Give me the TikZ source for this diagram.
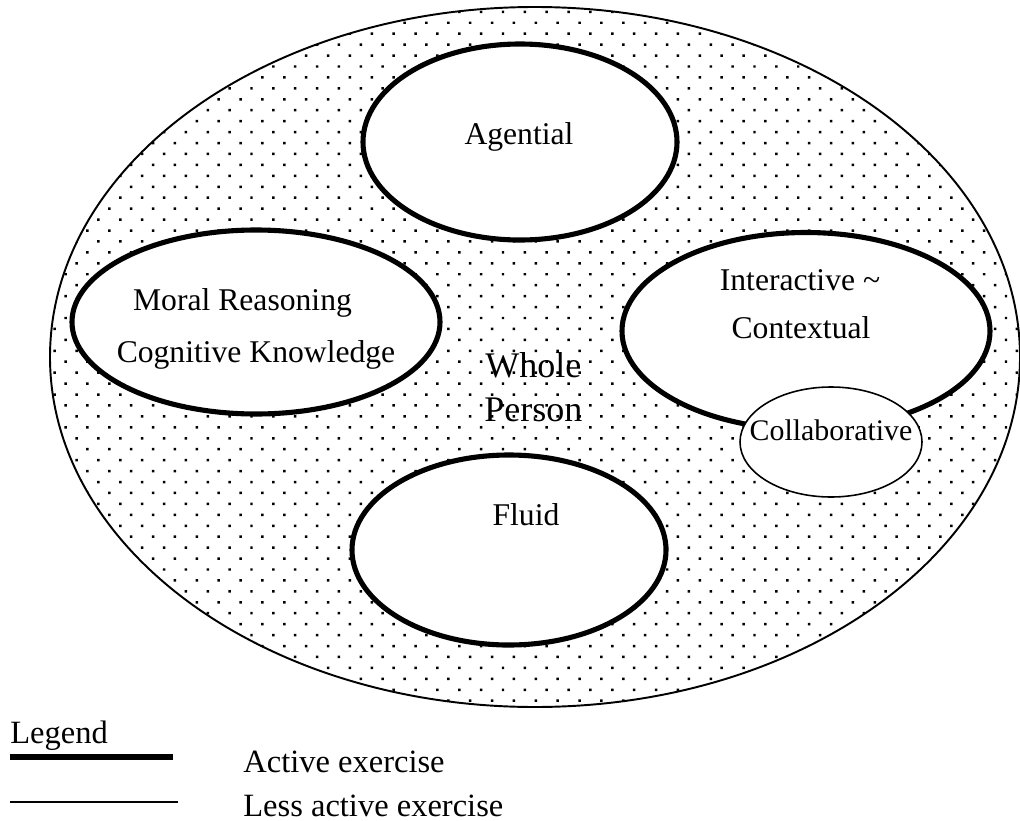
\documentclass[tikz,border=0pt]{standalone}
\usepackage{fontspec}
\setmainfont{Liberation Serif}
\usepackage{tikz}
\usetikzlibrary{shapes.geometric,patterns.meta,positioning}
\tikzset{
  realm/.style={draw, ellipse, fill=white, line width=2.9pt, inner sep=0pt, outer sep=0pt},
  subrealm/.style={draw, ellipse, fill=white, line width=0.9pt, inner sep=0pt, outer sep=0pt},
  whole/.style={draw, ellipse, line width=1.1pt, inner sep=0pt, outer sep=0pt,
                pattern={Dots[distance=8.8pt, angle=45, radius=1pt]}},
  txt/.style={font=\fontsize{18}{21}\selectfont, inner sep=0pt},
  smalltxt/.style={font=\fontsize{17}{20}\selectfont, inner sep=0pt},
  bigtxt/.style={font=\fontsize{20.5}{24}\selectfont, inner sep=0pt},
  legtxt/.style={font=\fontsize{18.5}{22}\selectfont, inner sep=0pt, anchor=west},
  actv/.style={line width=2.9pt},
  lessactv/.style={line width=1.1pt},
}

\begin{document}
\begin{tikzpicture}[x=1cm, y=1cm]
  \useasboundingbox (0,0) rectangle (20.4,-16.42);
  \node[whole, minimum width=19.4cm, minimum height=14cm] (person) at (10.7,-7.14) {};
  \node[realm, minimum width=6.28cm, minimum height=3.92cm] (agent) at (10.4,-2.84) {};
  \node[realm, minimum width=7.36cm, minimum height=3.68cm] (moral) at (5.12,-6.44) {};
  \node[realm, minimum width=7.36cm, minimum height=3.94cm] (inter) at (16.12,-6.62) {};
  \node[subrealm, minimum width=3.64cm, minimum height=2.2cm] (collab) at (16.62,-8.84) {};
  \node[realm, minimum width=6.28cm, minimum height=3.8cm] (fluid) at (10.18,-11.0) {};
  % texts
  \node[txt] (agentT) at (10.38,-2.74) {Agential};
  \node[txt] (moralT) at (4.85,-6.06) {Moral Reasoning};
  \node[txt] (cogT) at (5.12,-7.10) {Cognitive Knowledge};
  \node[bigtxt, anchor=west] (wholeT) at (9.70,-7.30) {Whole};
  \node[bigtxt, anchor=west] (personT) at (9.68,-8.20) {Person};
  \node[txt] (interT) at (16.0,-5.6) {Interactive \textasciitilde};
  \node[txt] (contT) at (16.02,-6.56) {Contextual};
  \node[smalltxt] (collabT) at (16.62,-8.6) {Collaborative};
  \node[txt] (fluidT) at (10.52,-10.3) {Fluid};
  % legend
  \node[legtxt] (legend) at (0.2,-14.72) {Legend};
  \coordinate (a1) at (0.2,-15.14);
  \coordinate (a2) at (3.46,-15.14);
  \coordinate (b1) at (0.2,-16.04);
  \coordinate (b2) at (3.56,-16.04);
  \draw[actv] (a1) -- (a2);
  \draw[lessactv] (b1) -- (b2);
  \node[legtxt] (actT) at (4.86,-15.24) {Active exercise};
  \node[legtxt] (lessT) at (4.86,-16.12) {Less active exercise};
\end{tikzpicture}
\end{document}
